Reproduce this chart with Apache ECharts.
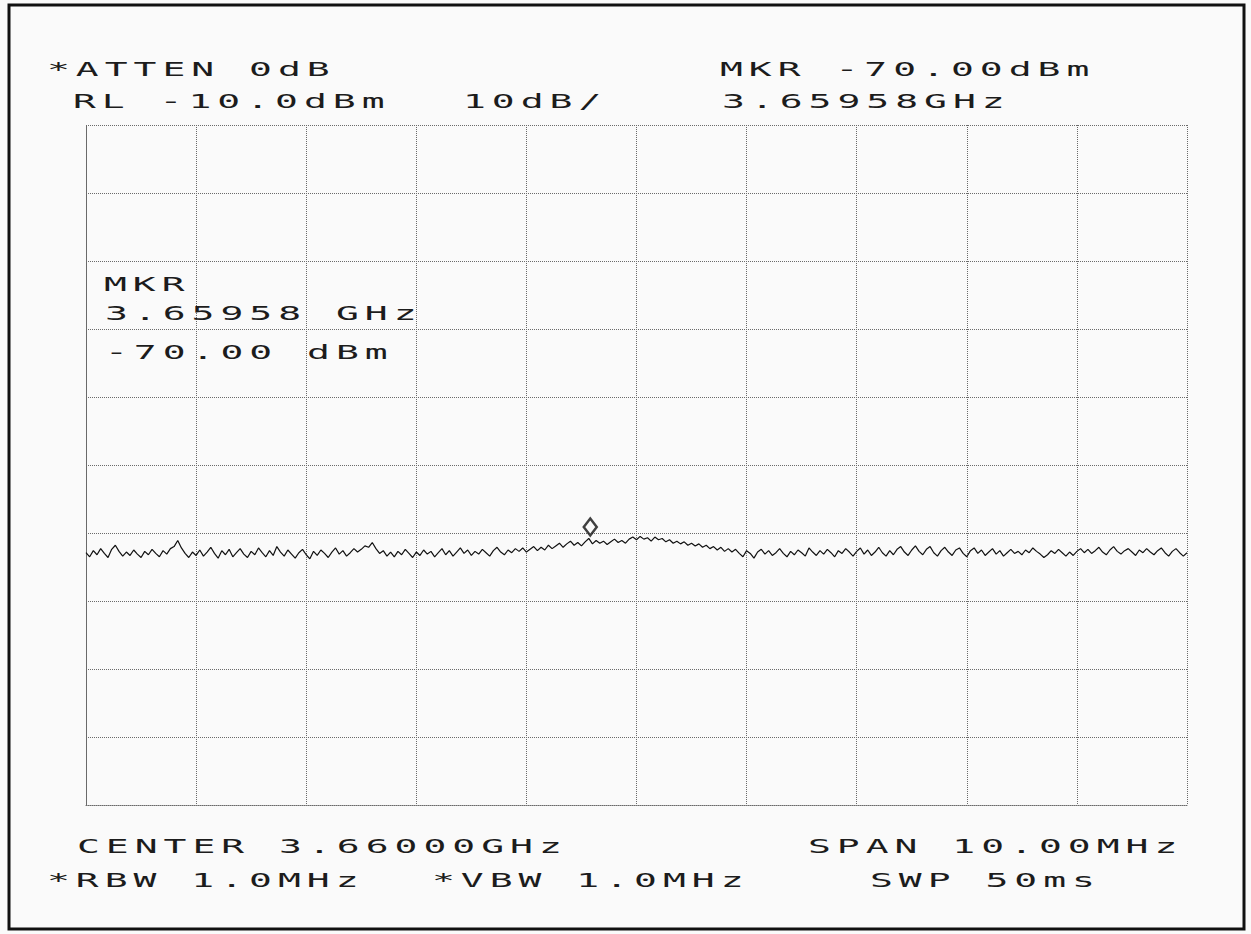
<!DOCTYPE html>
<html>
<head>
<meta charset="utf-8">
<script src="https://cdn.jsdelivr.net/npm/echarts@6/dist/echarts.min.js"></script>
<style>
  html, body { margin: 0; padding: 0; background: #ffffff; }
  #main { width: 1251px; height: 934px; }
  #main text { letter-spacing: 3px; }
</style>
</head>
<body>
<div id="main"></div>
<script>
// ---- instrument settings (from the screen annotations) ----
const freqStartMHz = 3655;
const freqStopMHz = 3665;
const refLevelDbm = -10;
const bottomLevelDbm = -110;
const dbPerDiv = 10;
const mhzPerDiv = 1;

// ---- trace levels (dBm), left to right ----
const levels = [
  -72.9,-73.5,-72.6,-73.2,-72.3,-73.0,-73.6,-72.4,-71.8,-72.7,-73.4,-72.8,-73.3,-72.5,-73.1,
  -73.6,-72.7,-73.2,-72.4,-73.0,-73.5,-72.6,-73.1,-72.3,-72.0,-71.1,-72.2,-73.0,-73.6,-72.8,
  -73.3,-72.5,-73.4,-72.8,-72.1,-73.0,-73.7,-72.6,-73.2,-72.4,-73.5,-72.9,-72.3,-73.1,-73.6,
  -72.7,-73.2,-72.2,-72.9,-73.5,-72.6,-73.3,-72.0,-72.8,-73.4,-72.5,-73.1,-73.7,-72.9,-72.4,
  -73.2,-73.8,-72.7,-73.3,-72.5,-73.0,-73.6,-72.8,-72.2,-73.1,-72.6,-73.4,-72.9,-72.3,-72.8,
  -72.4,-71.9,-72.1,-71.4,-72.3,-73.0,-72.6,-73.4,-72.8,-73.5,-72.7,-73.2,-72.4,-73.0,-73.6,
  -72.8,-73.3,-72.5,-73.1,-72.7,-73.5,-72.9,-72.3,-73.2,-72.6,-73.4,-72.8,-72.2,-73.0,-72.5,
  -73.3,-72.7,-73.1,-72.4,-72.9,-73.4,-72.6,-72.1,-72.8,-73.2,-72.5,-72.9,-72.3,-72.7,-72.2,
  -72.8,-72.4,-72.0,-72.6,-72.1,-72.5,-71.8,-72.3,-71.9,-71.5,-72.1,-71.6,-71.2,-71.8,-71.4,
  -71.9,-71.3,-70.8,-71.6,-71.1,-71.5,-71.2,-71.7,-71.3,-70.9,-71.4,-71.1,-71.5,-70.9,-70.6,
  -71.0,-70.5,-70.9,-70.7,-71.2,-70.6,-71.0,-70.8,-71.3,-71.0,-71.5,-71.2,-71.6,-71.3,-71.8,
  -71.5,-71.9,-71.6,-72.1,-71.8,-72.3,-72.0,-72.5,-72.1,-72.7,-72.3,-72.8,-72.4,-73.0,-73.5,
  -72.6,-73.0,-73.7,-72.8,-72.4,-73.1,-72.6,-73.3,-72.9,-72.3,-73.0,-73.5,-72.7,-73.2,-72.5,
  -72.9,-73.4,-72.2,-72.8,-73.3,-72.6,-73.1,-72.4,-72.9,-73.5,-72.6,-73.0,-72.3,-72.8,-73.4,
  -72.7,-72.2,-73.1,-72.5,-73.3,-72.8,-72.1,-72.9,-73.4,-72.6,-73.2,-72.4,-72.0,-72.8,-73.3,
  -72.5,-71.9,-72.7,-73.2,-72.4,-72.0,-72.9,-73.4,-72.6,-72.1,-72.8,-73.3,-72.5,-72.2,-73.0,
  -73.5,-72.6,-72.2,-73.0,-72.5,-73.3,-72.8,-72.3,-73.1,-72.6,-73.4,-72.9,-72.4,-73.0,-72.7,
  -73.2,-72.5,-72.9,-72.2,-72.7,-73.1,-73.6,-73.2,-72.6,-73.0,-72.4,-72.9,-73.4,-72.8,-73.3,
  -72.7,-72.3,-72.9,-72.4,-73.0,-72.6,-72.1,-72.8,-73.2,-72.5,-72.0,-72.7,-73.1,-72.6,-72.3,
  -72.8,-73.3,-72.5,-72.9,-72.3,-72.8,-73.2,-72.6,-72.2,-72.9,-73.4,-72.7,-72.3,-72.9,-73.4,
  -72.9
];

// ---- marker ----
const markerFreqMHz = 3659.58;
const markerLevelDbm = -70.00;

// ---- screen annotation texts ----
const textAtten = '*ATTEN 0dB';
const textRefLevel = 'RL -10.0dBm';
const textScale = '10dB/';
const textMkrTop = 'MKR -70.00dBm';
const textMkrFreqTop = '3.65958GHz';
const textMkrBlock = ['MKR', '3.65958 GHz', '-70.00 dBm'];
const textCenter = 'CENTER 3.66000GHz';
const textSpan = 'SPAN 10.00MHz';
const textRbw = '*RBW 1.0MHz';
const textVbw = '*VBW 1.0MHz';
const textSwp = 'SWP 50ms';

// trace points: the analyzer's sweep points are evenly spaced across the span
const traceData = levels.map((v, i) => [
  freqStartMHz + i * (freqStopMHz - freqStartMHz) / (levels.length - 1), v
]);

const chart = echarts.init(document.getElementById('main'), null, { renderer: 'svg' });

const FONT = '19px "DejaVu Sans Mono"';
const SX = 2.0;
function label(text, x, y) {
  return {
    type: 'text', x: x, y: y, scaleX: SX, scaleY: 1, z: 10,
    style: { text: text, font: FONT, fill: '#1c1c1c', textAlign: 'left', textVerticalAlign: 'middle' }
  };
}

const option = {
  backgroundColor: '#fafafa',
  animation: false,
  grid: { left: 86, top: 125, width: 1101, height: 680, containLabel: false },
  xAxis: {
    type: 'value', min: freqStartMHz, max: freqStopMHz, interval: mhzPerDiv,
    axisLabel: { show: false }, axisTick: { show: false },
    axisLine: { show: true, onZero: false, lineStyle: { color: '#6a6a6a', type: 'dotted', width: 1 } },
    splitLine: { show: true, lineStyle: { color: '#6a6a6a', type: 'dotted', width: 1 } }
  },
  yAxis: {
    type: 'value', min: bottomLevelDbm, max: refLevelDbm, interval: dbPerDiv,
    axisLabel: { show: false }, axisTick: { show: false },
    axisLine: { show: true, lineStyle: { color: '#6a6a6a', type: 'dotted', width: 1 } },
    splitLine: { show: true, lineStyle: { color: '#6a6a6a', type: 'dotted', width: 1 } }
  },
  series: [
    {
      type: 'line', data: traceData, showSymbol: false, smooth: false,
      lineStyle: { color: '#111', width: 1.2 }, z: 5
    },
    {
      type: 'scatter', data: [[markerFreqMHz, markerLevelDbm]],
      symbol: 'diamond', symbolSize: [13, 17], symbolOffset: [0, -6],
      itemStyle: { color: '#fafafa', borderColor: '#111', borderWidth: 2.5 }, z: 6
    }
  ],
  graphic: [
    {
      type: 'rect', shape: { x: 9, y: 5, width: 1235, height: 924 },
      style: { fill: 'none', stroke: '#111', lineWidth: 3 }, z: 0, silent: true
    },
    label(textAtten, 47, 69),
    label(textRefLevel, 73, 101),
    label(textScale, 463, 101),
    label(textMkrTop, 720, 69),
    label(textMkrFreqTop, 722, 101),
    label(textMkrBlock[0], 104, 284),
    label(textMkrBlock[1], 105, 313),
    label(textMkrBlock[2], 105, 352),
    label(textCenter, 77, 846),
    label(textSpan, 808, 846),
    label(textRbw, 47, 880),
    label(textVbw, 432, 880),
    label(textSwp, 870, 880)
  ]
};
chart.setOption(option);
</script>
</body>
</html>
